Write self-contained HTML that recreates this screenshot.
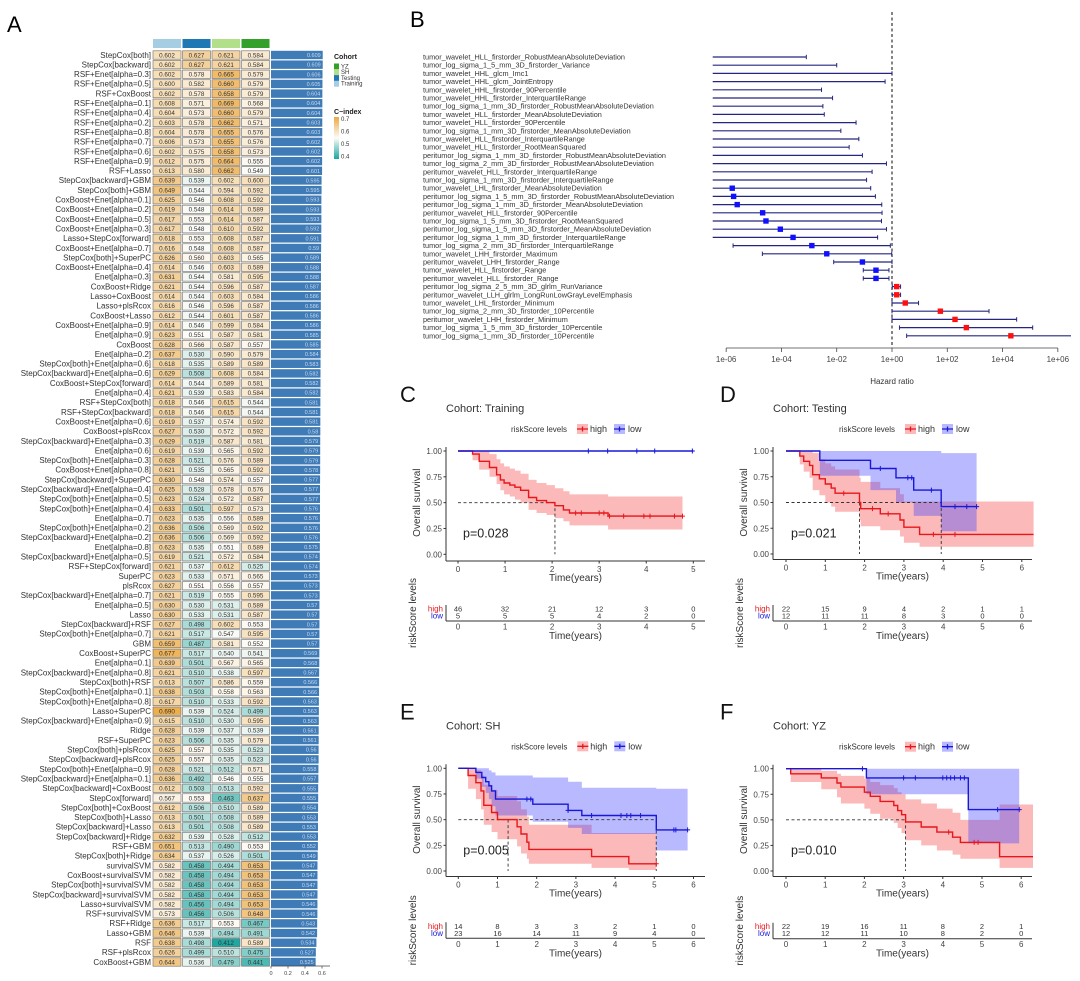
<!DOCTYPE html>
<html><head><meta charset="utf-8">
<style>
html,body{margin:0;padding:0;background:#fff;}
svg{display:block;font-family:"Liberation Sans",sans-serif;}
</style></head>
<body>
<svg id="fig" width="1080" height="981" viewBox="0 0 1080 981" xmlns="http://www.w3.org/2000/svg">
<text x="7" y="32" font-size="22">A</text>
<text x="410" y="27" font-size="22">B</text>
</svg>
<script>
// ---------------- Panel A data ----------------
const hmModels=["StepCox[both]","StepCox[backward]","RSF+Enet[alpha=0.3]","RSF+Enet[alpha=0.5]","RSF+CoxBoost","RSF+Enet[alpha=0.1]","RSF+Enet[alpha=0.4]","RSF+Enet[alpha=0.2]","RSF+Enet[alpha=0.8]","RSF+Enet[alpha=0.7]","RSF+Enet[alpha=0.6]","RSF+Enet[alpha=0.9]","RSF+Lasso","StepCox[backward]+GBM","StepCox[both]+GBM","CoxBoost+Enet[alpha=0.1]","CoxBoost+Enet[alpha=0.2]","CoxBoost+Enet[alpha=0.5]","CoxBoost+Enet[alpha=0.3]","Lasso+StepCox[forward]","CoxBoost+Enet[alpha=0.7]","StepCox[both]+SuperPC","CoxBoost+Enet[alpha=0.4]","Enet[alpha=0.3]","CoxBoost+Ridge","Lasso+CoxBoost","Lasso+plsRcox","CoxBoost+Lasso","CoxBoost+Enet[alpha=0.9]","Enet[alpha=0.9]","CoxBoost",
"Enet[alpha=0.2]","StepCox[both]+Enet[alpha=0.6]","StepCox[backward]+Enet[alpha=0.6]","CoxBoost+StepCox[forward]","Enet[alpha=0.4]","RSF+StepCox[both]","RSF+StepCox[backward]","CoxBoost+Enet[alpha=0.6]","CoxBoost+plsRcox","StepCox[backward]+Enet[alpha=0.3]","Enet[alpha=0.6]","StepCox[both]+Enet[alpha=0.3]","CoxBoost+Enet[alpha=0.8]","StepCox[backward]+SuperPC","StepCox[backward]+Enet[alpha=0.4]","StepCox[both]+Enet[alpha=0.5]","StepCox[both]+Enet[alpha=0.4]","Enet[alpha=0.7]","StepCox[both]+Enet[alpha=0.2]","StepCox[backward]+Enet[alpha=0.2]","Enet[alpha=0.8]","StepCox[backward]+Enet[alpha=0.5]","RSF+StepCox[forward]","SuperPC","plsRcox","StepCox[backward]+Enet[alpha=0.7]","Enet[alpha=0.5]","Lasso","StepCox[backward]+RSF","StepCox[both]+Enet[alpha=0.7]","GBM","CoxBoost+SuperPC","Enet[alpha=0.1]",
"StepCox[backward]+Enet[alpha=0.8]","StepCox[both]+RSF","StepCox[both]+Enet[alpha=0.1]","StepCox[both]+Enet[alpha=0.8]","Lasso+SuperPC","StepCox[backward]+Enet[alpha=0.9]","Ridge","RSF+SuperPC","StepCox[both]+plsRcox","StepCox[backward]+plsRcox","StepCox[both]+Enet[alpha=0.9]","StepCox[backward]+Enet[alpha=0.1]","StepCox[backward]+CoxBoost","StepCox[forward]","StepCox[both]+CoxBoost","StepCox[both]+Lasso","StepCox[backward]+Lasso","StepCox[backward]+Ridge","RSF+GBM","StepCox[both]+Ridge","survivalSVM","CoxBoost+survivalSVM","StepCox[both]+survivalSVM","StepCox[backward]+survivalSVM","Lasso+survivalSVM","RSF+survivalSVM","RSF+Ridge","Lasso+GBM","RSF","RSF+plsRcox","CoxBoost+GBM"];
const hmTraining=[.602,.602,.602,.600,.602,.608,.604,.603,.604,.606,.602,.612,.613,.639,.649,.625,.619,.617,.617,.618,.616,.626,.614,.631,.621,.614,.616,.612,.614,.623,.628,
.637,.618,.629,.614,.621,.618,.618,.619,.627,.629,.619,.628,.621,.630,.625,.623,.633,.623,.636,.636,.623,.619,.621,.623,.627,.621,.630,.630,.627,.621,.659,.677,.639,
.621,.613,.638,.617,.690,.615,.628,.623,.625,.625,.628,.636,.612,.567,.612,.613,.613,.632,.651,.634,.582,.582,.582,.582,.582,.573,.636,.646,.638,.626,.644];
const hmTesting=[.627,.627,.578,.582,.578,.571,.573,.578,.578,.573,.575,.575,.580,.539,.544,.546,.548,.553,.548,.553,.548,.560,.546,.544,.544,.544,.546,.544,.546,.551,.566,
.530,.535,.508,.544,.539,.546,.546,.537,.530,.519,.539,.521,.535,.548,.528,.524,.501,.535,.506,.506,.535,.521,.537,.533,.551,.519,.530,.533,.498,.517,.487,.517,.501,
.510,.507,.503,.510,.539,.510,.539,.506,.557,.557,.521,.492,.503,.553,.506,.501,.501,.539,.513,.537,.458,.458,.458,.458,.456,.456,.517,.539,.498,.499,.536];
const hmSH=[.621,.621,.665,.660,.658,.669,.660,.662,.655,.655,.658,.664,.662,.602,.594,.608,.614,.614,.610,.608,.608,.603,.603,.581,.596,.603,.596,.601,.599,.587,.587,
.590,.589,.608,.589,.583,.615,.615,.574,.572,.587,.565,.576,.565,.574,.578,.572,.597,.556,.569,.569,.551,.572,.612,.571,.556,.555,.531,.531,.602,.547,.581,.540,.567,
.538,.586,.558,.533,.524,.530,.537,.535,.535,.535,.512,.546,.513,.463,.510,.508,.508,.528,.490,.526,.494,.494,.494,.494,.494,.506,.553,.494,.412,.510,.479];
const hmYZ=[.584,.584,.579,.579,.579,.568,.579,.571,.576,.576,.573,.555,.549,.600,.592,.592,.589,.587,.592,.587,.587,.565,.589,.595,.587,.584,.587,.587,.584,.581,.557,
.579,.589,.584,.581,.584,.544,.544,.592,.592,.581,.592,.589,.592,.557,.576,.587,.573,.589,.592,.592,.589,.584,.525,.565,.557,.595,.589,.587,.553,.595,.552,.541,.565,
.597,.559,.563,.592,.499,.595,.539,.579,.523,.523,.571,.555,.592,.637,.589,.589,.589,.512,.553,.501,.653,.653,.653,.653,.653,.648,.467,.491,.589,.475,.441];
const hmCohorts=["Training","Testing","SH","YZ"];
const hmBarTicks=[0,0.2,0.4,0.6];

// ---------------- Panel B data (log10 hazard ratio) ----------------
const fpFeatures=["tumor_wavelet_HLL_firstorder_RobustMeanAbsoluteDeviation","tumor_log_sigma_1_5_mm_3D_firstorder_Variance","tumor_wavelet_HHL_glcm_Imc1","tumor_wavelet_HHL_glcm_JointEntropy","tumor_wavelet_HHL_firstorder_90Percentile","tumor_wavelet_HHL_firstorder_InterquartileRange","tumor_log_sigma_1_mm_3D_firstorder_RobustMeanAbsoluteDeviation","tumor_wavelet_HLL_firstorder_MeanAbsoluteDeviation","tumor_wavelet_HLL_firstorder_90Percentile","tumor_log_sigma_1_mm_3D_firstorder_MeanAbsoluteDeviation","tumor_wavelet_HLL_firstorder_InterquartileRange","tumor_wavelet_HLL_firstorder_RootMeanSquared","peritumor_log_sigma_1_mm_3D_firstorder_RobustMeanAbsoluteDeviation","tumor_log_sigma_2_mm_3D_firstorder_RobustMeanAbsoluteDeviation","peritumor_wavelet_HLL_firstorder_InterquartileRange","tumor_log_sigma_1_mm_3D_firstorder_InterquartileRange","tumor_wavelet_LHL_firstorder_MeanAbsoluteDeviation","peritumor_log_sigma_1_5_mm_3D_firstorder_RobustMeanAbsoluteDeviation","peritumor_log_sigma_1_mm_3D_firstorder_MeanAbsoluteDeviation","peritumor_wavelet_HLL_firstorder_90Percentile","tumor_log_sigma_1_5_mm_3D_firstorder_RootMeanSquared","peritumor_log_sigma_1_5_mm_3D_firstorder_MeanAbsoluteDeviation","peritumor_log_sigma_1_mm_3D_firstorder_InterquartileRange","tumor_log_sigma_2_mm_3D_firstorder_InterquartileRange","tumor_wavelet_LHH_firstorder_Maximum","peritumor_wavelet_LHH_firstorder_Range","tumor_wavelet_HLL_firstorder_Range","peritumor_wavelet_HLL_firstorder_Range","peritumor_log_sigma_2_5_mm_3D_glrlm_RunVariance","peritumor_wavelet_LLH_glrlm_LongRunLowGrayLevelEmphasis","tumor_wavelet_LHL_firstorder_Minimum","tumor_log_sigma_2_mm_3D_firstorder_10Percentile","peritumor_wavelet_LHH_firstorder_Minimum","tumor_log_sigma_1_5_mm_3D_firstorder_10Percentile","tumor_log_sigma_1_mm_3D_firstorder_10Percentile"];
const fpLogHR=[-9,-8,-7,-7.5,-8,-8,-8,-8,-8,-8,-8,-8,-8,-7,-8,-8,-5.78,-5.73,-5.6,-4.68,-4.56,-4.04,-3.58,-2.9,-2.36,-1.07,-0.58,-0.58,0.17,0.17,0.48,1.75,2.28,2.69,4.3];
const fpLogLow=[-12,-12,-12,-12,-12,-12,-12,-12,-12,-12,-12,-12,-12,-12,-12,-12,-12,-12,-12,-12,-12,-12,-12,-5.75,-4.69,-2.11,-1.04,-1.04,0.01,0.01,0.0,0.0,0.0,0.27,0.53];
const fpLogHigh=[-3.1,-2.0,0,-0.25,-2.55,-2.15,-2.5,-2.45,-1.3,-1.85,-1.2,-1.55,-1.07,-0.2,-0.72,-0.92,-0.77,-0.6,-0.37,-0.36,-0.38,-0.2,-0.52,-0.06,-0.01,0,-0.11,-0.11,0.31,0.31,0.96,3.51,4.51,5.09,6.48];
const fpTicks=[-6,-4,-2,0,2,4,6];
const fpTickLabels=["1e-06","1e-04","1e-02","1e+00","1e+02","1e+04","1e+06"];

// ---------------- KM data ----------------
const cHighT=[0,0.31,0.45,0.67,0.82,0.9,0.98,1.1,1.21,1.33,1.5,1.67,1.88,2.06,2.24,2.37,3.19];
const cHighS=[1,0.97,0.9,0.84,0.77,0.72,0.69,0.67,0.65,0.62,0.55,0.52,0.5,0.47,0.43,0.40,0.37];
const cHighHi=[1,1,1,0.97,0.92,0.88,0.85,0.83,0.81,0.78,0.72,0.69,0.67,0.64,0.61,0.58,0.56];
const cHighLo=[1,0.91,0.82,0.75,0.68,0.62,0.58,0.56,0.53,0.50,0.43,0.40,0.38,0.35,0.32,0.28,0.24];
const cHighEnd=4.77;
const cHighCens=[2.5,2.62,3.0,3.1,3.22,3.52,3.95,4.08,4.6,4.77];
const cLowT=[0], cLowS=[1], cLowHi=[1], cLowLo=[1];
const cLowEnd=5.0;
const cLowCens=[2.77,3.18,3.8,4.18,4.98];
const cMedians=[2.06];
const cRiskHigh=[46,32,21,12,3,0];
const cRiskLow=[5,5,5,4,2,0];

const dHighT=[0,0.35,0.45,0.6,0.68,0.85,1.0,1.15,1.25,1.87,1.9,2.4,2.9,3.0,3.4];
const dHighS=[1,0.95,0.9,0.86,0.77,0.73,0.68,0.64,0.59,0.5,0.44,0.39,0.33,0.26,0.19];
const dHighHi=[1,1,1,1,0.98,0.92,0.88,0.85,0.82,0.74,0.70,0.64,0.58,0.51,0.51];
const dHighLo=[1,0.87,0.8,0.74,0.62,0.57,0.5,0.46,0.41,0.33,0.27,0.23,0.17,0.11,0.07];
const dHighEnd=6.3;
const dHighCens=[1.47,2.2,2.6,3.75,4.3];
const dLowT=[0,0.86,2.15,2.8,3.25,3.95];
const dLowS=[1,0.91,0.83,0.74,0.62,0.46];
const dLowHi=[1,1,1,1,1,0.98];
const dLowLo=[1,0.76,0.62,0.5,0.37,0.22];
const dLowEnd=4.85;
const dLowCens=[2.4,3.1,3.2,3.7,4.3,4.6,4.85];
const dMedians=[1.87,3.95];
const dRiskHigh=[22,15,9,4,2,1,1];
const dRiskLow=[12,11,11,8,3,0,0];

const eHighT=[0,0.25,0.45,0.58,0.65,0.85,1.0,1.5,1.6,1.75,1.8,3.4,4.35];
const eHighS=[1,0.93,0.86,0.78,0.64,0.57,0.5,0.43,0.36,0.28,0.21,0.14,0.07];
const eHighHi=[1,1,0.98,0.93,0.84,0.79,0.73,0.68,0.6,0.53,0.45,0.37,0.37];
const eHighLo=[1,0.8,0.7,0.6,0.45,0.38,0.31,0.24,0.17,0.12,0.07,0.03,0.01];
const eHighEnd=5.05;
const eHighCens=[5.05];
const eLowT=[0,0.45,0.6,0.7,0.78,0.85,0.95,1.9,2.8,3.15,5.05];
const eLowS=[1,0.96,0.91,0.87,0.83,0.78,0.7,0.65,0.59,0.54,0.4];
const eLowHi=[1,1,1,1,0.98,0.96,0.93,0.91,0.87,0.81,0.8];
const eLowLo=[1,0.9,0.82,0.76,0.7,0.63,0.54,0.48,0.42,0.36,0.2];
const eLowEnd=5.85;
const eLowCens=[1.75,1.85,2.8,3.4,4.15,4.3,4.4,4.65,5.5,5.55,5.85];
const eMedians=[1.27,5.05];
const eRiskHigh=[14,8,3,3,2,1,0];
const eRiskLow=[23,16,14,11,9,4,0];

const fHighT=[0,0.12,0.9,1.3,1.4,2.0,2.15,2.4,2.75,2.85,2.95,3.05,3.45,3.85,4.25,4.45,5.45];
const fHighS=[1,0.95,0.91,0.86,0.82,0.77,0.73,0.68,0.64,0.59,0.55,0.48,0.43,0.38,0.33,0.28,0.14];
const fHighHi=[1,1,0.98,0.95,0.93,0.9,0.87,0.84,0.81,0.77,0.75,0.7,0.66,0.61,0.57,0.5,0.65];
const fHighLo=[1,0.87,0.8,0.72,0.66,0.61,0.56,0.51,0.47,0.42,0.37,0.3,0.25,0.2,0.16,0.12,0.03];
const fHighEnd=6.3;
const fHighCens=[4.15,4.8,4.9];
const fLowT=[0,2.05,4.65];
const fLowS=[1,0.91,0.6];
const fLowHi=[1,1,1];
const fLowLo=[1,0.75,0.27];
const fLowEnd=5.95;
const fLowCens=[1.95,3.0,3.3,4.0,4.1,4.2,4.3,4.45,4.55,5.4,5.95];
const fMedians=[3.05];
const fRiskHigh=[22,19,16,11,8,2,1];
const fRiskLow=[12,12,11,10,8,2,0];

// ---------------- helpers ----------------
const NS="http://www.w3.org/2000/svg";
const svg=document.getElementById('fig');
function mk(tag,attrs,parent){const e=document.createElementNS(NS,tag);for(const k in attrs)e.setAttribute(k,attrs[k]);(parent||svg).appendChild(e);return e;}
function tx(x,y,s,attrs,parent){const e=mk('text',Object.assign({x:x,y:y},attrs),parent);e.textContent=s;return e;}
function mix(a,b,t){return 'rgb('+a.map((v,i)=>Math.round(v+(b[i]-v)*t)).join(',')+')';}
const WHITE=[253,252,248],ORANGE=[236,168,64],TEAL=[28,166,160];
function cellColor(v){if(v>=0.55){return mix(WHITE,ORANGE,Math.min(1,(v-0.55)/0.15));}return mix(WHITE,TEAL,Math.min(1,(0.55-v)/0.14));}

// ---------------- Panel A ----------------
(function(){
  const g=mk('g',{});
  
  
  const colX=[153,182.5,212,241.5], colW=28;
  const rowY0=55, pitch=(962-55)/(hmModels.length-1), cellH=8.4;
  const headColors=["#a6cee3","#1f78b4","#b2df8a","#33a02c"];
  hmCohorts.forEach((c,j)=>{
    const r=mk('rect',{x:colX[j],y:39,width:colW,height:9,fill:headColors[j]},g);
    
    
  });
  const series=[hmTraining,hmTesting,hmSH,hmYZ];
  const bx0=271, bScale=85;
  hmModels.forEach((m,i)=>{
    const cy=rowY0+i*pitch;
    const lab=tx(151,cy+2.8,m,{'font-size':8,'text-anchor':'end',fill:'#333'},g);
    
    
    let sum=0;
    series.forEach((s,j)=>{
      const v=s[i]; sum+=v;
      const r=mk('rect',{x:colX[j],y:cy-cellH/2,width:colW,height:cellH,fill:cellColor(v),stroke:'#6b6b6b','stroke-width':0.6},g);
      
      
      const t=tx(colX[j]+colW/2,cy+2.3,v.toFixed(3),{'font-size':6.3,'text-anchor':'middle',fill:'#333'},g);
      
      
    });
    const mean=sum/4;
    const b=mk('rect',{x:bx0,y:cy-cellH/2,width:mean*bScale,height:cellH,fill:'#3f7bb6'},g);
    
    
    const bl=tx(bx0+mean*bScale-2,cy+2,String(parseFloat(mean.toFixed(3))),{'font-size':5.5,'text-anchor':'end',fill:'#c9daf0'},g);
    
    
  });
  const ax=mk('line',{x1:bx0,y1:966,x2:330,y2:966,stroke:'#444','stroke-width':0.7},g);
  
  
  hmBarTicks.forEach(t=>{
    const tk=mk('line',{x1:bx0+t*bScale,y1:966,x2:bx0+t*bScale,y2:968.5,stroke:'#444','stroke-width':0.7},g);
    
    
    const tl=tx(bx0+t*bScale,975,String(t),{'font-size':5.5,'text-anchor':'middle',fill:'#444'},g);
    
    
  });
  const lg=mk('g',{},g);
  
  
  const t1=tx(334,59,'Cohort',{'font-size':7,'font-weight':'bold',fill:'#222'},lg);
  
  
  const leg=[["YZ","#33a02c"],["SH","#b2df8a"],["Testing","#1f78b4"],["Training","#a6cee3"]];
  leg.forEach((l,k)=>{
    const y=63.5+k*5.8;
    const r=mk('rect',{x:334,y:y,width:5,height:5.8,fill:l[1]},lg);
    
    
    const t=tx(341,y+4.8,l[0],{'font-size':6,fill:'#333'},lg);
    
    
  });
  const t2=tx(334,114,'C\u2212index',{'font-size':7,'font-weight':'bold',fill:'#222'},lg);
  
  
  const defs=mk('defs',{},lg);
  const grad=mk('linearGradient',{id:'cgrad',x1:0,y1:0,x2:0,y2:1},defs);
  [[0,cellColor(0.7)],[0.33,cellColor(0.6)],[0.5,cellColor(0.55)],[0.67,cellColor(0.5)],[1,cellColor(0.4)]].forEach(s=>mk('stop',{offset:s[0],'stop-color':s[1]},grad));
  const gr=mk('rect',{x:334,y:117,width:5,height:42,fill:'url(#cgrad)'},lg);
  
  
  ["0.7","0.6","0.5","0.4"].forEach((s,k)=>{
    const t=tx(341,121+k*12.5,s,{'font-size':6,fill:'#333'},lg);
    
    
  });
})();

// ---------------- Panel B ----------------
(function(){
  const g=mk('g',{});
  
  
  const xAt=l=>892+l*27.64;
  const xMin=712.7, xMax=1071;
  const clampX=l=>Math.max(xMin,Math.min(xMax,xAt(l)));
  const yAt=i=>57+i*8.2;
  const dl=mk('line',{x1:892,y1:12,x2:892,y2:348,stroke:'#333','stroke-width':1.2,'stroke-dasharray':'3,2.5'},g);
  
  
  fpFeatures.forEach((f,i)=>{
    const y=yAt(i);
    const t=tx(423,y+2.5,f,{'font-size':7.3,fill:'#333'},g);
    
    
    const x1=clampX(fpLogLow[i]), x2=clampX(fpLogHigh[i]);
    const ci=mk('line',{x1:x1,y1:y,x2:x2,y2:y,stroke:'#262680','stroke-width':1.2},g);
    
    
    [[fpLogLow[i],x1],[fpLogHigh[i],x2]].forEach(p=>{
      if(xAt(p[0])>=xMin&&xAt(p[0])<=xMax){
        const c=mk('line',{x1:p[1],y1:y-2.2,x2:p[1],y2:y+2.2,stroke:'#262680','stroke-width':1},g);
        
        
      }
    });
    const px=xAt(fpLogHR[i]);
    if(px>=xMin&&px<=xMax){
      const pt=mk('rect',{x:px-2.7,y:y-2.7,width:5.4,height:5.4,fill:fpLogHR[i]>0?'#ff1010':'#1010ff'},g);
      
      
    }
  });
  const ax=mk('line',{x1:xAt(-6),y1:348,x2:xAt(6),y2:348,stroke:'#444','stroke-width':0.8},g);
  
  
  fpTicks.forEach((t,k)=>{
    const tk=mk('line',{x1:xAt(t),y1:348,x2:xAt(t),y2:352,stroke:'#444','stroke-width':0.8},g);
    
    
    const tl=tx(xAt(t),362,fpTickLabels[k],{'font-size':8,'text-anchor':'middle',fill:'#444'},g);
    
    
  });
  const at=tx(892,384,'Hazard ratio',{'font-size':8,'text-anchor':'middle',fill:'#333'},g);
  
  
})();

// ---------------- KM panels ----------------
const RED='#e8161b', BLUE='#1818d8', REDF='rgba(245,70,70,0.38)', BLUEF='rgba(70,70,255,0.38)';
function kmPanel(cfg, hi, lo, risk, medians){
  const g=mk('g',{});
  
  
  const X=t=>cfg.x0+t*cfg.ppy;
  const Y=s=>cfg.y0-(cfg.y0-cfg.y1)*s;
  const L=tx(cfg.letterX,cfg.y1-49,cfg.letter,{'font-size':22,fill:'#111'},g);
  
  
  const T=tx(cfg.axisX,cfg.y1-39,cfg.title,{'font-size':11,fill:'#333'},g);
  
  
  const lx=cfg.x0+53, ly=cfg.y1-19;
  const lt=tx(lx,ly,'riskScore levels',{'font-size':8,fill:'#333'},g);
  
  
  [[66,REDF,RED,'high',79],[103,BLUEF,BLUE,'low',117]].forEach(k=>{
    const r=mk('rect',{x:lx+k[0],y:ly-8,width:11,height:10,fill:k[1]},g);
    
    
    const ln=mk('path',{d:'M'+(lx+k[0])+' '+(ly-3)+'h11M'+(lx+k[0]+5.5)+' '+(ly-5.5)+'v5',stroke:k[2],'stroke-width':1.3,fill:'none'},g);
    
    
    const t=tx(lx+k[4],ly,k[3],{'font-size':9,fill:'#333'},g);
    
    
  });
  [[hi,REDF],[lo,BLUEF]].forEach(c=>{
    const d=c[0]; let up=[],dn=[];
    d.T.forEach((t,i)=>{const tn=i+1<d.T.length?d.T[i+1]:d.end;up.push([X(t),Y(d.Hi[i])],[X(tn),Y(d.Hi[i])]);dn.push([X(t),Y(d.Lo[i])],[X(tn),Y(d.Lo[i])]);});
    const pts=up.concat(dn.reverse()).map(p=>p[0].toFixed(1)+','+p[1].toFixed(1)).join(' ');
    const pg=mk('polygon',{points:pts,fill:c[1],stroke:'none'},g);
    
    
  });
  let mx=Math.max.apply(null,medians);
  const mh=mk('line',{x1:X(0),y1:Y(0.5),x2:X(mx),y2:Y(0.5),stroke:'#333','stroke-width':0.9,'stroke-dasharray':'3,2.5'},g);
  
  
  medians.forEach(m=>{
    const mv=mk('line',{x1:X(m),y1:Y(0.5),x2:X(m),y2:Y(0),stroke:'#333','stroke-width':0.9,'stroke-dasharray':'3,2.5'},g);
    
    
  });
  [[hi,RED,'high'],[lo,BLUE,'low']].forEach(c=>{
    const d=c[0]; let p='M'+X(d.T[0])+' '+Y(d.S[0]);
    for(let i=1;i<d.T.length;i++){p+='H'+X(d.T[i]).toFixed(1)+'V'+Y(d.S[i]).toFixed(1);}
    p+='H'+X(d.end).toFixed(1);
    const pa=mk('path',{d:p,stroke:c[1],'stroke-width':1.4,fill:'none'},g);
    
    
    d.C.forEach(t=>{
      let s=d.S[0]; d.T.forEach((tt,i)=>{if(tt<=t)s=d.S[i];});
      const cm=mk('path',{d:'M'+(X(t)-2.5)+' '+Y(s)+'h5M'+X(t)+' '+(Y(s)-2.5)+'v5',stroke:c[1],'stroke-width':1},g);
      
      
    });
  });
  const ay=mk('line',{x1:cfg.axisX,y1:cfg.y1-4,x2:cfg.axisX,y2:cfg.axisY,stroke:'#333','stroke-width':1},g);
  
  
  const axl=mk('line',{x1:cfg.axisX,y1:cfg.axisY,x2:cfg.axisEnd,y2:cfg.axisY,stroke:'#333','stroke-width':1},g);
  
  
  [0,0.25,0.5,0.75,1].forEach(s=>{
    const tk=mk('line',{x1:cfg.axisX-2.5,y1:Y(s),x2:cfg.axisX,y2:Y(s),stroke:'#333'},g);
    
    
    const tl=tx(cfg.axisX-4,Y(s)+3,s.toFixed(2),{'font-size':8,'text-anchor':'end',fill:'#444'},g);
    
    
  });
  const yt=tx(0,0,'Overall survival',{'font-size':10,'text-anchor':'middle',fill:'#333',transform:'translate('+(cfg.axisX-26)+','+((cfg.y1+cfg.y0)/2)+') rotate(-90)'},g);
  
  
  for(let t=0;t<=cfg.maxTick;t++){
    const tk=mk('line',{x1:X(t),y1:cfg.axisY,x2:X(t),y2:cfg.axisY+2.5,stroke:'#333'},g);
    
    
    const tl=tx(X(t),cfg.axisY+11,String(t),{'font-size':8,'text-anchor':'middle',fill:'#444'},g);
    
    
  }
  const xt=tx((cfg.axisX+cfg.axisEnd)/2,cfg.axisY+20,'Time(years)',{'font-size':10,'text-anchor':'middle',fill:'#333'},g);
  
  
  const pv=tx(cfg.x0+5,Y(0.2)+4,cfg.p,{'font-size':12.5,fill:'#222'},g);
  
  
  const rh=cfg.y1+158, rl=cfg.y1+165, ra=cfg.y1+170;
  const rt=mk('g',{},g);
  
  
  const h1=tx(cfg.axisX-3,rh+2.5,'high',{'font-size':8,'text-anchor':'end',fill:RED},rt);
  
  
  const h2=tx(cfg.axisX-3,rl+2.5,'low',{'font-size':8,'text-anchor':'end',fill:BLUE},rt);
  
  
  const ra1=mk('line',{x1:cfg.axisX,y1:rh-4,x2:cfg.axisX,y2:ra,stroke:'#333'},rt);
  
  
  const ra2=mk('line',{x1:cfg.axisX,y1:ra,x2:cfg.axisEnd,y2:ra,stroke:'#333'},rt);
  
  
  for(let t=0;t<=cfg.maxTick;t++){
    const a=tx(X(t),rh+2.5,String(risk[0][t]),{'font-size':7.5,'text-anchor':'middle',fill:'#333'},rt);
    
    
    const b=tx(X(t),rl+2.5,String(risk[1][t]),{'font-size':7.5,'text-anchor':'middle',fill:'#333'},rt);
    
    
    const c=tx(X(t),ra+8.5,String(t),{'font-size':8,'text-anchor':'middle',fill:'#444'},rt);
    
    
  }
  const rx=tx((cfg.axisX+cfg.axisEnd)/2,ra+18,'Time(years)',{'font-size':10,'text-anchor':'middle',fill:'#333'},rt);
  
  
  const ry=tx(0,0,'riskScore levels',{'font-size':10,'text-anchor':'middle',fill:'#333',transform:'translate('+(cfg.axisX-30)+','+(cfg.y1+162)+') rotate(-90)'},rt);
  
  
}
kmPanel({id:'c',letter:'C',letterX:400,title:'Cohort: Training',p:'p=0.028',x0:458,ppy:47.06,y1:451,y0:554.3,axisX:446,axisY:561,axisEnd:705,maxTick:5},
  {T:cHighT,S:cHighS,Hi:cHighHi,Lo:cHighLo,end:cHighEnd,C:cHighCens},{T:cLowT,S:cLowS,Hi:cLowHi,Lo:cLowLo,end:cLowEnd,C:cLowCens},[cRiskHigh,cRiskLow],cMedians);
kmPanel({id:'d',letter:'D',letterX:720,title:'Cohort: Testing',p:'p=0.021',x0:786,ppy:39.3,y1:451,y0:554,axisX:773,axisY:559.5,axisEnd:1032,maxTick:6},
  {T:dHighT,S:dHighS,Hi:dHighHi,Lo:dHighLo,end:dHighEnd,C:dHighCens},{T:dLowT,S:dLowS,Hi:dLowHi,Lo:dLowLo,end:dLowEnd,C:dLowCens},[dRiskHigh,dRiskLow],dMedians);
kmPanel({id:'e',letter:'E',letterX:400,title:'Cohort: SH',p:'p=0.005',x0:458.3,ppy:39.2,y1:768.3,y0:871,axisX:446,axisY:876.5,axisEnd:705,maxTick:6},
  {T:eHighT,S:eHighS,Hi:eHighHi,Lo:eHighLo,end:eHighEnd,C:eHighCens},{T:eLowT,S:eLowS,Hi:eLowHi,Lo:eLowLo,end:eLowEnd,C:eLowCens},[eRiskHigh,eRiskLow],eMedians);
kmPanel({id:'f',letter:'F',letterX:720,title:'Cohort: YZ',p:'p=0.010',x0:786,ppy:39.2,y1:768.7,y0:871,axisX:773,axisY:876.5,axisEnd:1032,maxTick:6},
  {T:fHighT,S:fHighS,Hi:fHighHi,Lo:fHighLo,end:fHighEnd,C:fHighCens},{T:fLowT,S:fLowS,Hi:fLowHi,Lo:fLowLo,end:fLowEnd,C:fLowCens},[fRiskHigh,fRiskLow],fMedians);
</script>
</body></html>
